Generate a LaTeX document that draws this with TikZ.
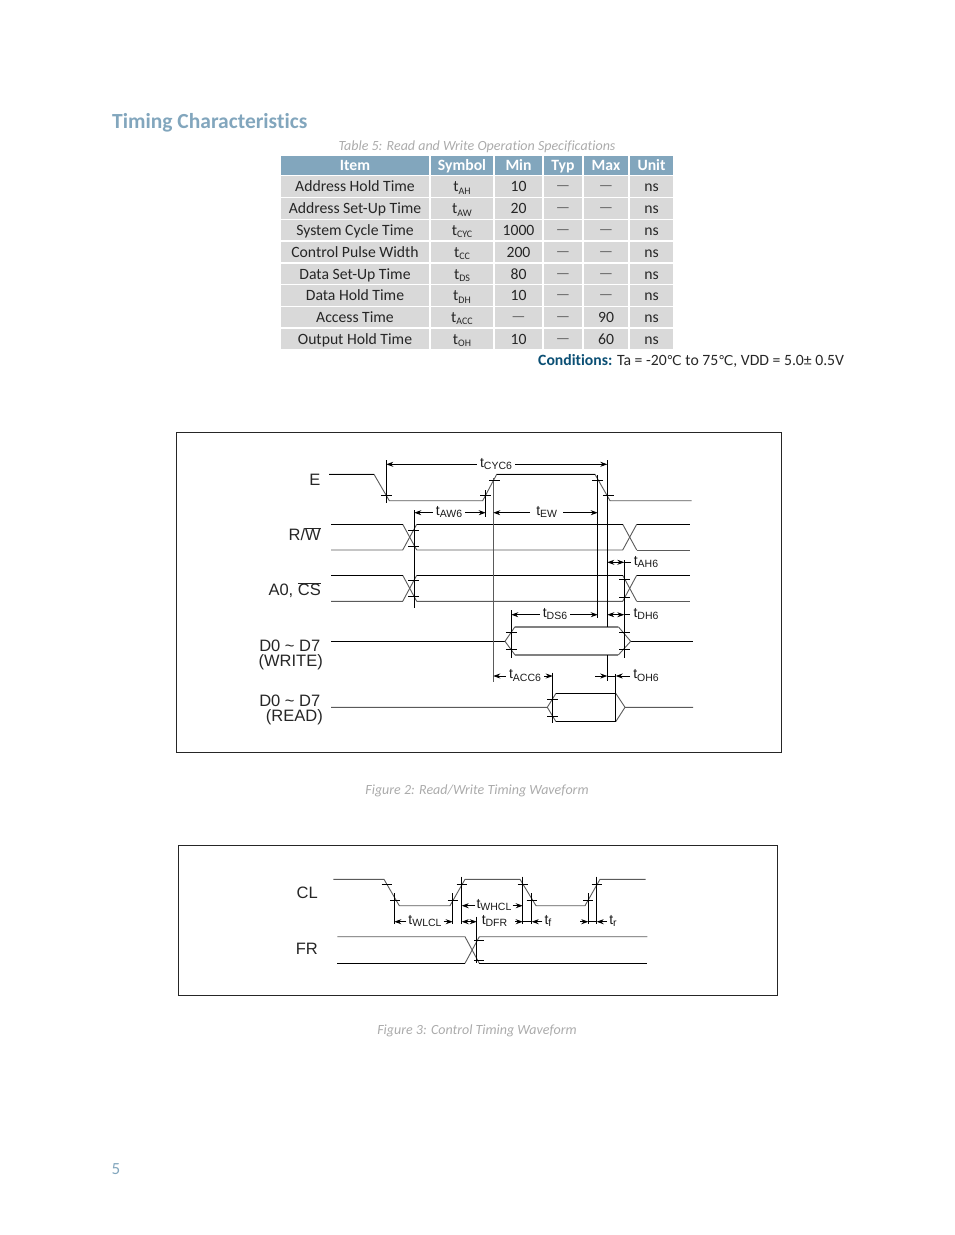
\documentclass[tikz,border=0pt]{standalone}
\usepackage{fontspec}
\setmainfont[Ligatures=NoCommon]{Carlito}
\newfontfamily\wavefont{Liberation Sans}
\newfontfamily\degfont{DejaVu Sans}
\usetikzlibrary{arrows.meta,positioning}
\definecolor{headblue}{HTML}{82A6BD}
\definecolor{cellgray}{HTML}{D9D9D9}
\definecolor{capgray}{HTML}{ABABAB}
\definecolor{condblue}{HTML}{0B4F74}
\definecolor{wavegray}{HTML}{5A5A5A}
\newcommand{\tsym}[2]{t\raisebox{-2.5pt}{\fontsize{#1}{#1}\selectfont #2}}
\newcommand{\nodata}{\textcolor{black!60}{\raisebox{1pt}{—}}}
\newcommand{\degC}{{\degfont\fontsize{13.5}{15}\selectfont ℃}}
\tikzset{
    cell/.style =    {rectangle,
                    fill=cellgray,
                    text=black!85,
                    inner sep=0pt,
                    text height=12pt,
                    text depth=2pt,
                    font=\fontsize{15.7}{16}\selectfont},
    headcell/.style = {cell,
                    fill=headblue,
                    text=white,
                    text height=11.5pt,
                    text depth=2.5pt,
                    font=\fontsize{15.7}{16}\selectfont\bfseries},
    caption/.style = {inner sep=0pt,
                    anchor=base,
                    text=capgray,
                    font=\fontsize{14}{14}\selectfont\itshape},
    signal/.style =  {inner sep=0pt,
                    align=right,
                    anchor=east,
                    text=black!85,
                    font=\wavefont\fontsize{16.5}{15}\selectfont},
    tlabel/.style =  {inner sep=3pt,
                    text=black!90,
                    text height=10pt,
                    text depth=4.5pt,
                    font=\wavefont\fontsize{14}{14}\selectfont},
    frame/.style =   {draw=black!85, line width=0.7pt},
    hi/.style =      {draw=black, line width=0.8pt},
    lo/.style =      {draw=wavegray, line width=0.9pt},
    bar/.style =     {draw=black, line width=0.8pt},
    dim/.style =     {draw=black, line width=0.8pt},
    >={Stealth[length=7pt,width=5pt]}
}

\begin{document}
\begin{tikzpicture}[x=1pt,y=-1pt]
    \useasboundingbox (0,0) rectangle (954,1235);
    % page text
    \node[inner sep=0pt,anchor=base west,text=headblue,font=\fontsize{21.5}{22}\selectfont\bfseries] (title) at (112,128) {Timing Characteristics};
    \node[caption] (tablecap) at (477,150) {Table 5: Read and Write Operation Specifications};
    \node[caption] (figcapA) at (477,794) {Figure 2: Read/Write Timing Waveform};
    \node[caption] (figcapB) at (477,1034) {Figure 3: Control Timing Waveform};
    \node[inner sep=0pt,anchor=base,text=headblue,font=\fontsize{17}{17}\selectfont] (pagenum) at (116,1174) {5};
    % table
    \foreach \cx/\w/\txt in {355/148/Item,462/62/Symbol,518.5/47/Min,563/38/Typ,606/44/Max,651.5/43/Unit}
        \node[headcell,minimum width=\w pt,minimum height=19pt] (head\txt) at (\cx,165.5) {\txt};
    \foreach \n/\cy/\h/\item/\sym/\mn/\ty/\mx in {
        a/186.5/21/Address Hold Time/AH/10/\nodata/\nodata,
        b/208.5/21/Address Set-Up Time/AW/20/\nodata/\nodata,
        c/230/20/System Cycle Time/CYC/1000/\nodata/\nodata,
        d/252/20/Control Pulse Width/CC/200/\nodata/\nodata,
        e/274/20/Data Set-Up Time/DS/80/\nodata/\nodata,
        f/295.5/21/Data Hold Time/DH/10/\nodata/\nodata,
        g/317/20/Access Time/ACC/\nodata/\nodata/90,
        h/339/20/Output Hold Time/OH/10/\nodata/60}{
        \node[cell,minimum width=148pt,minimum height=\h pt] (item\n) at (355,\cy) {\item};
        \node[cell,minimum width=62pt,minimum height=\h pt] (sym\n) at (462,\cy) {\tsym{10}{\sym}};
        \node[cell,minimum width=47pt,minimum height=\h pt] (min\n) at (518.5,\cy) {\mn};
        \node[cell,minimum width=38pt,minimum height=\h pt] (typ\n) at (563,\cy) {\ty};
        \node[cell,minimum width=44pt,minimum height=\h pt] (max\n) at (606,\cy) {\mx};
        \node[cell,minimum width=43pt,minimum height=\h pt] (unit\n) at (651.5,\cy) {ns};
    }
    \node[inner sep=0pt,anchor=base west,text=black!85,font=\fontsize{15.7}{16}\selectfont] (cond) at (538,365) {\textcolor{condblue}{\bfseries Conditions:} Ta = -20\degC{} to 75\degC, VDD = 5.0± 0.5V};
    % first waveform
    \draw[frame] (176.5,432.5) rectangle (781.5,752.5);
    \node[signal] (sigE) at (320.5,480) {E};
    \node[signal] (sigRW) at (321,534) {R/$\overline{\hbox{W}}$};
    \node[signal] (sigA) at (321,590) {A0, $\overline{\hbox{CS}}$};
    \node[signal] (sigW) at (323,655) {D0 \textasciitilde{} D7\hspace*{2.5pt}\\(WRITE)};
    \node[signal] (sigR) at (323,710) {D0 \textasciitilde{} D7\hspace*{2.5pt}\\(READ)};
    \draw[lo] (329,474.3) -- (374,474.3) -- (389.3,500.7) -- (482.7,500.7) -- (496.7,474.3) -- (595,474.3) -- (610,500.7) -- (691.7,500.7);
    \draw[hi] (329,474.3) -- (374,474.3) (496.7,474.3) -- (595,474.3);
    \foreach \t/\b in {524.3/550,575.3/601.3}{
        \draw[lo] (402.7,\t) -- (416.7,\b);
        \draw[lo] (622.7,\t) -- (636.7,\b);
        \draw[hi] (331,\t) -- (402.7,\t);
        \draw[hi] (416.7,\t) -- (622.7,\t);
        \draw[hi] (636.7,\t) -- (690,\t);
        \draw[lo] (331,\b) -- (402.7,\b) -- (416.7,\t);
        \draw[lo] (416.7,\b) -- (622.7,\b) -- (636.7,\t);
        \draw[lo] (636.7,\b) -- (690,\b);
    }
    \draw[hi] (331,641.3) -- (505,641.3) (630.7,641.3) -- (693,641.3);
    \draw[lo] (515,626.7) -- (505,641.3) -- (515,655) (618.3,626.7) -- (630.7,641.3) -- (618.3,655);
    \draw[draw=black!50,line width=1.6pt] (515,626.7) -- (618.3,626.7) (515,655) -- (618.3,655);
    \draw[lo] (331,707.3) -- (547.3,707.3) -- (556,693.3) (556,721.7) -- (547.3,707.3);
    \draw[lo] (615.7,693.3) -- (625,707.3) -- (615.7,721.7) (625,707.3) -- (693,707.3);
    \draw[hi] (556,693.3) -- (615.7,693.3) (556,721.7) -- (615.7,721.7);
    % guide lines of the first waveform
    \foreach \x/\a/\b in {386.3/460/502.7,414.3/510/607.7,485.7/490/516.7,597.7/475/618,
        607.3/460/627,607.3/655/681,511.3/610/658,624.3/560/658,552.7/672.7/723.3,615.7/674/721.7}
        \draw[bar] (\x,\a) -- (\x,\b);
    \draw[draw=wavegray,line width=0.8pt] (493.3,478) -- (493.3,681.7);
    \foreach \x/\y in {386.3/495,485.7/495,494.5/480.7,597.7/480.7,608.3/495,
        413.5/530.3,413.5/546.3,413.5/580,413.5/596.7,624.5/579,624.5/597.3,
        511.3/632.3,511.3/649.3,624.5/632.3,624.5/649.3,552.7/699,552.7/716}
        \draw[bar] (\x-5.5,\y) -- (\x+5.5,\y);
    % timing labels of the first waveform
    \node[tlabel] (tcyc) at (496,464.3) {\tsym{10.5}{CYC6}};
    \coordinate (cycL) at (386.3,464.3);
    \coordinate (cycR) at (607.3,464.3);
    \draw[dim,->] (tcyc) -- (cycL);
    \draw[dim,->] (tcyc) -- (cycR);
    \node[tlabel] (taw) at (449,512.7) {\tsym{10.5}{AW6}};
    \coordinate (awL) at (414.3,512.7);
    \coordinate (awR) at (485.7,512.7);
    \draw[dim,->] (taw) -- (awL);
    \draw[dim,->] (taw) -- (awR);
    \node[tlabel,inner sep=6pt] (tew) at (546.7,512.7) {\tsym{10.5}{EW}};
    \coordinate (ewL) at (493.3,512.7);
    \coordinate (ewR) at (597.7,512.7);
    \draw[dim,->] (tew) -- (ewL);
    \draw[dim,->] (tew) -- (ewR);
    \node[tlabel] (tds) at (555,614.7) {\tsym{10.5}{DS6}};
    \coordinate (dsL) at (511.3,614.7);
    \coordinate (dsR) at (597.7,614.7);
    \draw[dim,->] (tds) -- (dsL);
    \draw[dim,->] (tds) -- (dsR);
    \node[tlabel] (tacc) at (525,676) {\tsym{10.5}{ACC6}};
    \coordinate (accL) at (493.3,676);
    \coordinate (accR) at (552.7,676);
    \draw[dim,->] (tacc) -- (accL);
    \draw[dim,->] (tacc) -- (accR);
    \node[tlabel] (tah) at (646,562.3) {\tsym{10.5}{AH6}};
    \coordinate (ahL) at (607.3,562.3);
    \coordinate (ahR) at (624.3,562.3);
    \draw[dim,<->] (ahL) -- (ahR);
    \draw[dim] (ahR) -- (tah);
    \node[tlabel] (tdh) at (646,614.7) {\tsym{10.5}{DH6}};
    \coordinate (dhL) at (607.3,614.7);
    \coordinate (dhR) at (624.3,614.7);
    \draw[dim,<->] (dhL) -- (dhR);
    \draw[dim] (dhR) -- (tdh);
    \node[tlabel] (toh) at (646,676) {\tsym{10.5}{OH6}};
    \coordinate (ohL) at (607.3,676);
    \coordinate (ohR) at (615.7,676);
    \coordinate (ohS) at (595,676);
    \draw[dim,->] (ohS) -- (ohL);
    \draw[dim,->] (toh) -- (ohR);
    \draw[dim] (ohL) -- (ohR);
    % second waveform
    \draw[frame] (178.5,845.5) rectangle (777.5,995.5);
    \node[signal] (sigCL) at (318,893) {CL};
    \node[signal] (sigFR) at (318,949) {FR};
    \draw[lo] (333.3,879.3) -- (384,879.3) -- (399.3,905.7) -- (450,905.7) -- (465,879.3) -- (520,879.3) -- (536,905.7) -- (585,905.7) -- (600,879.3) -- (645.7,879.3);
    \draw[lo] (337.3,936.7) -- (465,936.7) -- (479.3,963.3);
    \draw[lo] (465,963.3) -- (479.3,936.7) -- (647.3,936.7);
    \draw[hi] (337.3,963.3) -- (465,963.3);
    \draw[hi] (479.3,963.3) -- (647.3,963.3);
    \foreach \x/\a/\b in {394.3/893/924.3,452.7/893/924.3,461.7/876.7/924.3,522.7/876.7/924.3,
        531.7/893/924.3,588.3/893/924.3,596.7/876.7/924.3,476.7/916.7/963.3}
        \draw[bar] (\x,\a) -- (\x,\b);
    \foreach \x/\y in {386.7/884,395.3/900,452.7/900,461.7/884,522.7/884,531.7/900,
        588.3/900,596.7/884,479/940,479/960}
        \draw[bar] (\x-5,\y) -- (\x+5,\y);
    \node[tlabel,inner sep=2pt] (twl) at (425,921.7) {\tsym{10.5}{WLCL}};
    \coordinate (wlL) at (394.3,921.7);
    \coordinate (wlR) at (452.7,921.7);
    \draw[dim,->] (twl) -- (wlL);
    \draw[dim,->] (twl) -- (wlR);
    \node[tlabel,inner sep=1pt] (twh) at (494,905.7) {\tsym{10.5}{WHCL}};
    \coordinate (whL) at (461.7,905.7);
    \coordinate (whR) at (522.7,905.7);
    \draw[dim,->] (twh) -- (whL);
    \draw[dim,->] (twh) -- (whR);
    \node[tlabel,inner sep=1pt] (tdfr) at (494.5,921.7) {\tsym{10.5}{DFR}};
    \coordinate (dfL) at (461.7,921.7);
    \coordinate (dfR) at (476.7,921.7);
    \draw[dim,<->] (dfL) -- (dfR);
    \coordinate (fA) at (515,921.7);
    \coordinate (fB) at (522.7,921.7);
    \coordinate (fC) at (531.7,921.7);
    \node[tlabel,inner sep=2pt] (tf) at (548,921.7) {\tsym{10.5}{f}};
    \draw[dim,->] (fA) -- (fB);
    \draw[dim,->] (tf) -- (fC);
    \draw[dim] (fB) -- (fC);
    \coordinate (rA) at (580,921.7);
    \coordinate (rB) at (588.3,921.7);
    \coordinate (rC) at (596.7,921.7);
    \node[tlabel,inner sep=2pt] (tr) at (613,921.7) {\tsym{10.5}{r}};
    \draw[dim,->] (rA) -- (rB);
    \draw[dim,->] (tr) -- (rC);
    \draw[dim] (rB) -- (rC);
\end{tikzpicture}
\end{document}
